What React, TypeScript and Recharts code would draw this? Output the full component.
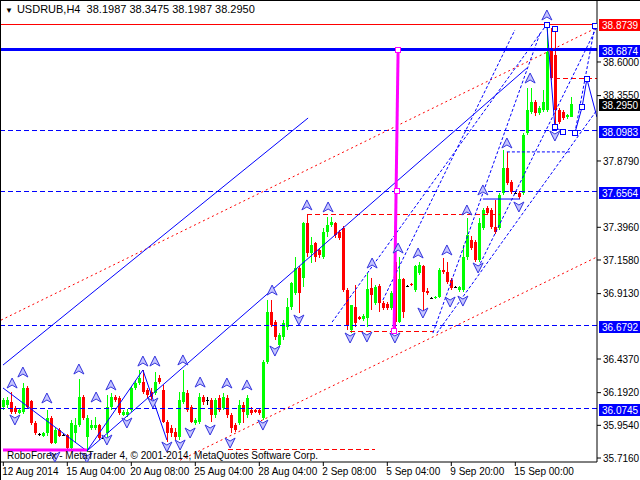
import React from 'react';
import { ComposedChart, Bar, XAxis, YAxis, ReferenceLine, Scatter } from 'recharts';

// USDRUB H4 candles, one entry per bar (bar index = position in the array)
const opens = [
  36.087, 36.102, 36.124, 36.080, 36.044, 36.051, 36.226, 36.131, 35.971, 35.891,
  35.876, 35.898, 36.007, 35.825, 35.920, 35.883, 35.883, 35.789, 35.898, 35.956,
  36.160, 35.869, 35.934, 35.934, 35.956, 35.862, 35.898, 36.087, 36.160, 36.153,
  36.029, 36.029, 36.066, 36.226, 36.262, 36.269, 36.211, 36.197, 36.189, 36.299,
  36.211, 35.978, 35.934, 35.905, 35.869, 36.124, 36.189, 36.087, 35.971, 35.978,
  36.160, 36.138, 36.138, 36.029, 36.153, 36.080, 36.153, 36.029, 35.956, 35.971,
  36.102, 36.029, 36.066, 36.066, 36.066, 36.007, 36.415, 36.779, 36.706, 36.539,
  36.597, 36.670, 36.816, 36.918, 37.100, 37.027, 37.427, 37.209, 37.282, 37.231,
  37.180, 37.362, 37.413, 37.427, 37.362, 37.391, 36.939, 36.648, 36.816, 36.743,
  36.728, 36.736, 36.954, 36.845, 36.969, 36.845, 36.838, 36.808, 37.143, 36.706,
  37.020, 36.969, 36.983, 36.939, 37.063, 37.114, 36.932, 36.881, 36.881, 36.888,
  37.085, 37.071, 37.012, 36.961, 36.939, 36.939, 37.180, 37.304, 37.289, 37.158,
  37.391, 37.537, 37.522, 37.398, 37.391, 37.646, 37.828, 37.726, 37.646, 37.646,
  37.646, 38.083, 38.236, 38.309, 38.229, 38.250, 38.250, 38.687, 38.651, 38.250,
  38.236, 38.199, 38.1987,
];
const highs = [
  36.153, 36.160, 36.197, 36.095, 36.080, 36.262, 36.240, 36.138, 35.985, 35.898,
  35.905, 36.066, 36.022, 35.934, 35.934, 35.891, 35.891, 35.993, 36.007, 36.291,
  36.175, 36.029, 35.993, 36.015, 35.964, 35.869, 36.175, 36.189, 36.175, 36.167,
  36.066, 36.073, 36.240, 36.284, 36.357, 36.357, 36.226, 36.226, 36.342, 36.320,
  36.248, 35.993, 35.956, 35.934, 36.197, 36.357, 36.211, 36.102, 36.007, 36.189,
  36.175, 36.160, 36.153, 36.153, 36.175, 36.189, 36.175, 36.044, 35.971, 36.138,
  36.124, 36.175, 36.087, 36.073, 36.080, 36.430, 36.867, 36.867, 36.721, 36.626,
  36.721, 36.881, 36.998, 37.180, 37.114, 37.435, 37.486, 37.325, 37.289, 37.245,
  37.391, 37.471, 37.471, 37.435, 37.376, 37.406, 36.954, 36.830, 36.976, 36.750,
  36.765, 37.063, 37.027, 36.976, 36.983, 36.859, 36.852, 36.932, 37.180, 37.180,
  37.027, 36.976, 36.990, 37.122, 37.143, 37.122, 36.954, 36.888, 36.896, 37.100,
  37.172, 37.143, 37.027, 36.969, 36.969, 37.267, 37.464, 37.333, 37.304, 37.464,
  37.537, 37.551, 37.537, 37.595, 37.646, 37.959, 37.945, 37.741, 37.653, 37.660,
  38.083, 38.411, 38.411, 38.323, 38.280, 38.396, 38.8739, 38.848, 38.848, 38.265,
  38.250, 38.221, 38.3475,
];
const lows = [
  36.066, 36.080, 36.036, 36.036, 36.036, 36.036, 36.073, 35.956, 35.883, 35.876,
  35.869, 35.876, 35.818, 35.818, 35.869, 35.876, 35.781, 35.774, 35.825, 35.942,
  35.993, 35.760, 35.920, 35.920, 35.847, 35.854, 35.869, 36.066, 36.124, 36.029,
  36.022, 36.015, 36.051, 36.211, 36.248, 36.182, 36.153, 36.138, 36.175, 36.255,
  35.971, 35.832, 35.869, 35.847, 35.847, 36.109, 36.051, 35.971, 35.956, 35.964,
  36.102, 36.102, 35.978, 36.007, 36.051, 36.066, 36.007, 35.898, 35.905, 35.956,
  35.971, 36.007, 36.029, 36.044, 36.029, 35.993, 36.401, 36.670, 36.575, 36.524,
  36.575, 36.648, 36.794, 36.903, 36.772, 36.961, 37.180, 37.136, 37.143, 37.172,
  37.165, 37.325, 37.398, 37.318, 37.304, 36.925, 36.648, 36.626, 36.670, 36.721,
  36.714, 36.670, 36.794, 36.830, 36.779, 36.794, 36.794, 36.794, 36.648, 36.699,
  36.736, 36.961, 36.969, 36.925, 37.049, 36.757, 36.903, 36.874, 36.874, 36.881,
  37.056, 36.983, 36.939, 36.954, 36.925, 36.925, 37.158, 37.231, 37.143, 37.143,
  37.376, 37.486, 37.384, 37.347, 37.376, 37.631, 37.704, 37.639, 37.639, 37.602,
  37.631, 38.068, 38.221, 38.207, 38.214, 38.236, 38.236, 38.469, 38.127, 38.145,
  38.178, 38.185, 38.1987,
];
const closes = [
  36.138, 36.138, 36.051, 36.051, 36.066, 36.226, 36.087, 35.971, 35.898, 35.891,
  35.898, 36.007, 35.825, 35.920, 35.876, 35.883, 35.789, 35.971, 35.956, 36.160,
  36.007, 36.007, 35.956, 35.956, 35.862, 35.862, 36.087, 36.160, 36.138, 36.044,
  36.051, 36.051, 36.226, 36.262, 36.299, 36.197, 36.175, 36.160, 36.269, 36.269,
  35.978, 35.898, 35.898, 35.869, 36.138, 36.197, 36.066, 35.978, 35.993, 36.160,
  36.124, 36.138, 36.029, 36.138, 36.066, 36.160, 36.029, 35.934, 35.920, 36.102,
  36.051, 36.153, 36.044, 36.051, 36.044, 36.415, 36.779, 36.685, 36.597, 36.612,
  36.699, 36.816, 36.990, 37.100, 36.918, 37.427, 37.209, 37.267, 37.180, 37.194,
  37.362, 37.413, 37.435, 37.340, 37.318, 36.939, 36.685, 36.830, 36.699, 36.728,
  36.750, 36.947, 36.903, 36.961, 36.845, 36.808, 36.808, 36.918, 36.706, 37.020,
  36.779, 36.969, 36.976, 37.114, 37.122, 36.925, 36.918, 36.881, 36.888, 37.085,
  37.071, 36.998, 36.954, 36.961, 36.961, 37.180, 37.340, 37.245, 37.158, 37.427,
  37.522, 37.500, 37.398, 37.362, 37.631, 37.828, 37.719, 37.653, 37.646, 37.617,
  38.068, 38.250, 38.309, 38.229, 38.265, 38.309, 38.673, 38.483, 38.250, 38.163,
  38.192, 38.214, 38.2950,
];

// axis
const xTicks = [0, 16, 32, 48, 64, 80, 96, 112, 128];
const xLabels = ['12 Aug 2014', '15 Aug 04:00', '20 Aug 08:00', '25 Aug 04:00', '28 Aug 04:00',
  '2 Sep 08:00', '5 Sep 04:00', '9 Sep 20:00', '15 Sep 00:00'];
// the scale labels that the level tags do not cover
const yTicks = [38.6, 38.355, 37.879, 37.396, 37.158, 36.913, 36.437, 36.192, 35.954, 35.716];

// price levels with their axis tags
const redLevel = 38.8739;
const thickLevel = 38.6874;
const dashedLevels = [38.0983, 37.6564, 36.6792, 36.0745];
const lastPrice = 38.295;

// objects drawn on the chart: [bar, price] pairs
const redDotLines = [
  [[-0.575, 36.72], [148.4, 38.85]],
  [[44.2, 35.70], [148.4, 37.18]],
];
const redDashLines = [
  [[75.9, 37.486], [124.2, 37.486]],
  [[86.7, 36.634], [107.4, 36.634]],
  [[137.9, 38.483], [148.4, 38.483]],
  [[56.2, 35.781], [92.9, 35.781]],
];
const blueSolidLines = [
  [[-0.075, 36.393], [76.2, 38.192]],
  [[20.9, 35.767], [130.9, 38.556]],
  [[119.9, 37.602], [129.2, 37.602]],
];
const zigzags = [
  [[-0.075, 36.226], [20.9, 35.767], [34.9, 36.357], [40.9, 35.847]],
  [[135.9, 38.869], [137.9, 38.127], [139.9, 38.090]],
  [[142.9, 38.083], [144.7, 38.272], [145.9, 38.476], [148.4, 38.199]],
];
const blueDashLines = [
  [[82.2, 36.706], [135.4, 38.855]],
  [[107.4, 36.626], [134.2, 38.811]],
  [[118.7, 37.100], [148.4, 38.855]],
  [[108.4, 36.626], [148.4, 38.250]],
  [[142.9, 38.083], [147.9, 38.862]],
  [[94.9, 36.867], [127.9, 38.833]],
  [[125.9, 37.945], [141.7, 37.945]],
];
const magentaLines = [
  [[98.7, 38.687], [97.7, 36.641]],
  [[-0.075, 35.774], [20.9, 35.774]],
];
const magentaPoints = [[98.7, 38.687], [98.4, 37.660], [97.7, 36.641]];
const bluePoints = [[135.9, 38.869], [137.9, 38.840], [137.9, 38.127], [139.9, 38.090],
  [142.9, 38.083], [144.7, 38.272], [145.9, 38.476], [147.9, 38.862]];

const upArrows = [
  [2.2, 36.262], [4.9, 36.342], [10.9, 36.153], [18.9, 36.364], [23.2, 36.160], [26.9, 36.248],
  [34.9, 36.422], [37.9, 36.422], [44.9, 36.430], [49.2, 36.269], [55.9, 36.262], [60.9, 36.248],
  [67.2, 36.939], [75.9, 37.559], [81.2, 37.544], [92.2, 37.136], [98.7, 37.245], [103.7, 37.209],
  [110.9, 37.231], [115.9, 37.522], [119.9, 37.668], [125.9, 38.010], [131.7, 38.483], [135.9, 38.942],
];
const downArrows = [
  [2.9, 35.993], [12.9, 35.723], [20.9, 35.716], [25.9, 35.847], [30.9, 35.971], [37.4, 36.116],
  [40.9, 35.796], [44.2, 35.811], [46.7, 35.898], [51.7, 35.920], [56.7, 35.825], [64.9, 35.956],
  [67.9, 36.495], [73.9, 36.721], [86.7, 36.590], [90.9, 36.597], [97.9, 36.590], [104.9, 36.772],
  [111.7, 36.852], [114.9, 36.859], [118.7, 37.100], [128.9, 37.544], [137.9, 38.061],
];

const rows = opens.map((o, i) => ({ i, o, h: highs[i], l: lows[i], c: closes[i], hl: [lows[i], highs[i]] }));
const pts = (list: number[][]) => list.map(([i, y]) => ({ i, y }));

const FONT = "'Liberation Sans', Arial, sans-serif";
const BLUE = '#0000ff';

function Candle(props: any) {
  const { x, y, width, height, payload } = props;
  if (!payload || x == null) return null;
  const { o, h, l, c } = payload;
  const k = h > l ? height / (h - l) : 0;
  const py = (v: number) => y + (h - v) * k;
  const cx = Math.round(x + width / 2 - 0.5);
  const color = c > o ? '#00ff00' : c < o ? '#ff0000' : '#000000';
  const top = Math.round(py(Math.max(o, c)));
  const bot = Math.round(py(Math.min(o, c)));
  return (
    <g>
      <rect x={cx} y={Math.round(y)} width={1} height={Math.max(1, Math.round(height))} fill={color} />
      <rect x={cx - 1} y={top} width={3} height={Math.max(1, bot - top)} fill={color} />
    </g>
  );
}

function UpArrow({ cx, cy }: any) {
  return <path d={`M${cx},${cy - 5} L${cx + 5},${cy + 5} L${cx},${cy + 2} L${cx - 5},${cy + 5} Z`}
    fill="#c4c4ff" stroke="#3333dd" strokeWidth={1} />;
}
function DownArrow({ cx, cy }: any) {
  return <path d={`M${cx},${cy + 5} L${cx + 5},${cy - 5} L${cx},${cy - 2} L${cx - 5},${cy - 5} Z`}
    fill="#c4c4ff" stroke="#3333dd" strokeWidth={1} />;
}
function Square({ cx, cy, stroke }: any) {
  return <rect x={Math.round(cx) - 2.5} y={Math.round(cy) - 2.5} width={5} height={5} fill="#fff" stroke={stroke} strokeWidth={1} />;
}

function Tag({ viewBox, text, bg }: any) {
  if (!viewBox) return null;
  const x = viewBox.x + viewBox.width + 2;
  const y = Math.round(viewBox.y);
  return (
    <g>
      <rect x={x} y={y - 5} width={642 - x} height={12} fill={bg} />
      <text x={x + 3} y={y + 4.5} fill="#fff" fontSize={10} fontFamily={FONT}>{text}</text>
    </g>
  );
}

function DateTick({ x, y, payload }: any) {
  const idx = xTicks.indexOf(payload.value);
  return (
    <text x={x - 1} y={y} dy="0.71em" fontSize={10} fontFamily={FONT} fill="#000" textAnchor="start">
      {xLabels[idx]}
    </text>
  );
}

const seg = (s: number[][]) => s.map(([x, y]) => ({ x, y }));

export default function App() {
  const lines: React.ReactNode[] = [];
  redDotLines.forEach((s, k) => lines.push(
    <ReferenceLine key={`rd${k}`} segment={seg(s)} stroke="#ff0000" strokeDasharray="2 3" ifOverflow="hidden" />));
  redDashLines.forEach((s, k) => lines.push(
    <ReferenceLine key={`rh${k}`} segment={seg(s)} stroke="#ff0000" strokeDasharray="5 3" ifOverflow="hidden"
      shapeRendering="crispEdges" />));
  blueSolidLines.forEach((s, k) => lines.push(
    <ReferenceLine key={`bs${k}`} segment={seg(s)} stroke={BLUE} ifOverflow="hidden" />));
  zigzags.forEach((z, k) => z.slice(1).forEach((p, j) => lines.push(
    <ReferenceLine key={`zz${k}-${j}`} segment={seg([z[j], p])} stroke={BLUE} ifOverflow="hidden" />)));
  blueDashLines.forEach((s, k) => lines.push(
    <ReferenceLine key={`bd${k}`} segment={seg(s)} stroke={BLUE} strokeDasharray="3 2" ifOverflow="hidden" />));
  magentaLines.forEach((s, k) => lines.push(
    <ReferenceLine key={`mg${k}`} segment={seg(s)} stroke="#ff00ff" strokeWidth={3} ifOverflow="hidden" />));

  return (
    <div style={{ position: 'absolute', left: 0, top: 0, width: 639, height: 479, background: '#fff',
      borderLeft: '1px solid #000', borderTop: '1px solid #000' }}>
      <ComposedChart width={639} height={479} data={rows} margin={{ top: 0, right: 0, bottom: 0, left: 0 }}>
        <XAxis dataKey="i" type="number" domain={[-0.575, 148.425]} allowDataOverflow ticks={xTicks}
          interval={0} height={18} tick={<DateTick />} tickSize={4} tickMargin={2}
          axisLine={{ stroke: '#000' }} tickLine={{ stroke: '#000' }} />
        <YAxis orientation="right" type="number" width={43} domain={[35.687, 39.044]} allowDataOverflow
          ticks={yTicks} interval={0} tickFormatter={(v: number) => v.toFixed(4)} tickSize={4} tickMargin={2}
          tick={{ fontSize: 10, fill: '#000', fontFamily: FONT }} axisLine={{ stroke: '#000' }} tickLine={{ stroke: '#000' }} />

        <ReferenceLine y={redLevel} stroke="#ff0000" ifOverflow="visible" shapeRendering="crispEdges"
          label={<Tag text={redLevel.toFixed(4)} bg="#ff0000" />} />
        <ReferenceLine y={thickLevel} stroke={BLUE} strokeWidth={3} ifOverflow="visible" shapeRendering="crispEdges"
          label={<Tag text={thickLevel.toFixed(4)} bg={BLUE} />} />
        {dashedLevels.map((v) => (
          <ReferenceLine key={v} y={v} stroke={BLUE} strokeDasharray="5 3" ifOverflow="visible"
            shapeRendering="crispEdges" label={<Tag text={v.toFixed(4)} bg={BLUE} />} />
        ))}
        <ReferenceLine y={lastPrice} stroke="none" ifOverflow="visible"
          label={<Tag text={lastPrice.toFixed(4)} bg="#000000" />} />

        <Bar dataKey="hl" barSize={3} shape={<Candle />} isAnimationActive={false} />
        {lines}

        <Scatter data={pts(upArrows)} dataKey="y" shape={<UpArrow />} isAnimationActive={false} />
        <Scatter data={pts(downArrows)} dataKey="y" shape={<DownArrow />} isAnimationActive={false} />
        <Scatter data={pts(bluePoints)} dataKey="y" shape={<Square stroke={BLUE} />} isAnimationActive={false} />
        <Scatter data={pts(magentaPoints)} dataKey="y" shape={<Square stroke="#ff00ff" />} isAnimationActive={false} />
      </ComposedChart>
      <div style={{ position: 'absolute', left: 4, top: 2, fontFamily: FONT, fontSize: 11, color: '#000',
        whiteSpace: 'pre', lineHeight: '13px' }}>
        <span style={{ fontSize: 8, marginRight: 4 }}>▼</span>USDRUB,H4  38.1987 38.3475 38.1987 38.2950
      </div>
      <div style={{ position: 'absolute', left: 6, top: 449, fontFamily: FONT, fontSize: 10, color: '#000',
        whiteSpace: 'pre', lineHeight: '12px' }}>
        RoboForex - MetaTrader 4, © 2001-2014, MetaQuotes Software Corp.
      </div>
    </div>
  );
}
